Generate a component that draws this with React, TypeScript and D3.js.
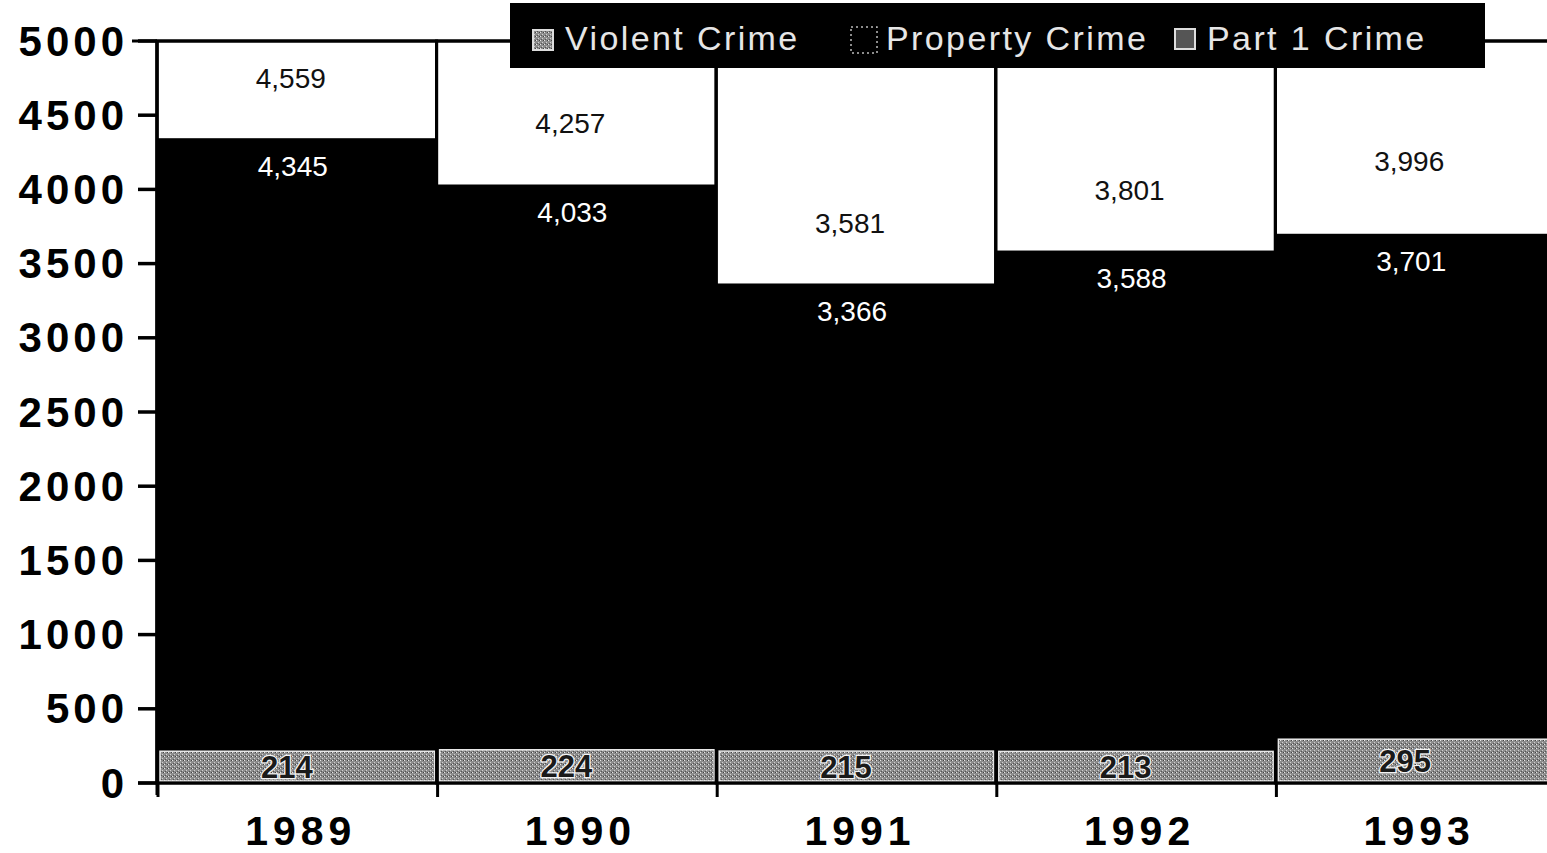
import React from "react";
import * as d3 from "d3";

const years = ["1989", "1990", "1991", "1992", "1993"];
const part1Crime = [4559, 4257, 3581, 3801, 3996];
const propertyCrime = [4345, 4033, 3366, 3588, 3701];
const violentCrime = [214, 224, 215, 213, 295];
const yTicks = [0, 500, 1000, 1500, 2000, 2500, 3000, 3500, 4000, 4500, 5000];
const legendItems = ["Violent Crime", "Property Crime", "Part 1 Crime"];

const W = 1547;
const H = 853;
const FONT = "'Liberation Sans', Arial, Helvetica, sans-serif";

export default function App() {
  const x = d3.scaleBand<string>().domain(years).range([157, 1555]).padding(0);
  const y = d3.scaleLinear().domain([0, 5000]).range([783, 41]);
  const bw = x.bandwidth();
  const fmt = d3.format(",");

  const legendTextX = [565, 886, 1207];

  return (
    <div style={{ position: "fixed", left: 0, top: 0 }}>
      <svg width={W} height={H} style={{ display: "block", background: "#fff" }}>
        <defs>
          <pattern id="greyDither" width="4" height="4" patternUnits="userSpaceOnUse">
            <rect width="4" height="4" fill="#8c8c8c" />
            <rect x="0" y="0" width="1" height="1" fill="#e6e6e6" />
            <rect x="2" y="2" width="1" height="1" fill="#d0d0d0" />
            <rect x="3" y="0" width="1" height="1" fill="#444" />
            <rect x="1" y="3" width="1" height="1" fill="#555" />
          </pattern>
        </defs>

        {/* full-height white bars (outlines) */}
        {years.map((yr) => (
          <rect
            key={"w" + yr}
            x={x(yr)!}
            y={y(5000)}
            width={bw}
            height={y(0) - y(5000)}
            fill="#fff"
            stroke="#000"
            strokeWidth={3}
          />
        ))}

        {/* property crime black bars */}
        {years.map((yr, i) => (
          <rect
            key={"p" + yr}
            x={x(yr)!}
            y={y(propertyCrime[i])}
            width={bw}
            height={y(0) - y(propertyCrime[i])}
            fill="#000"
          />
        ))}

        {/* violent crime grey bars */}
        {years.map((yr, i) => (
          <rect
            key={"v" + yr}
            x={x(yr)! + 3}
            y={y(violentCrime[i])}
            width={bw - 5}
            height={y(0) - y(violentCrime[i]) - 2}
            fill="url(#greyDither)"
            stroke="#e8e8e8"
            strokeWidth={1.5}
          />
        ))}

        {/* separators between bars */}
        {years.map((yr) => (
          <line
            key={"s" + yr}
            x1={x(yr)!}
            x2={x(yr)!}
            y1={y(5000)}
            y2={y(0)}
            stroke="#000"
            strokeWidth={3}
          />
        ))}

        {/* Part 1 labels */}
        {years.map((yr, i) => (
          <text
            key={"l1" + yr}
            x={x(yr)! + bw / 2 - 6}
            y={y(part1Crime[i]) - 28}
            textAnchor="middle"
            dominantBaseline="central"
            fontFamily={FONT}
            fontSize={28}
            fill="#111"
          >
            {fmt(part1Crime[i])}
          </text>
        ))}

        {/* Property labels */}
        {years.map((yr, i) => (
          <text
            key={"l2" + yr}
            x={x(yr)! + bw / 2 - 4}
            y={y(propertyCrime[i]) + 28}
            textAnchor="middle"
            dominantBaseline="central"
            fontFamily={FONT}
            fontSize={28}
            fill="#fff"
          >
            {fmt(propertyCrime[i])}
          </text>
        ))}

        {/* Violent labels */}
        {years.map((yr, i) => (
          <text
            key={"l3" + yr}
            x={x(yr)! + bw / 2 - 10}
            y={(y(violentCrime[i]) + y(0)) / 2}
            textAnchor="middle"
            dominantBaseline="central"
            fontFamily={FONT}
            fontSize={31}
            fontWeight="bold"
            fill="#1a1a1a"
            stroke="#f2f2f2"
            strokeWidth={2.5}
            paintOrder="stroke"
          >
            {fmt(violentCrime[i])}
          </text>
        ))}

        {/* top frame line */}
        <line x1={132} x2={W} y1={y(5000)} y2={y(5000)} stroke="#000" strokeWidth={3} />

        {/* y axis */}
        <line x1={157} x2={157} y1={y(5000)} y2={y(0) + 12} stroke="#000" strokeWidth={3} />
        {yTicks.map((t) => (
          <g key={"yt" + t}>
            <line x1={138} x2={157} y1={y(t)} y2={y(t)} stroke="#000" strokeWidth={3.5} />
            <text
              x={128}
              y={y(t)}
              textAnchor="end"
              dominantBaseline="central"
              fontFamily={FONT}
              fontSize={42}
              fontWeight="bold"
              letterSpacing={4}
              fill="#000"
            >
              {t}
            </text>
          </g>
        ))}

        {/* x axis */}
        <line x1={138} x2={W} y1={y(0)} y2={y(0)} stroke="#000" strokeWidth={3} />
        {years.map((yr) => (
          <line
            key={"xt" + yr}
            x1={x(yr)! + 1}
            x2={x(yr)! + 1}
            y1={y(0)}
            y2={y(0) + 14}
            stroke="#000"
            strokeWidth={3}
          />
        ))}
        {years.map((yr) => (
          <text
            key={"xl" + yr}
            x={x(yr)! + bw / 2 + 4}
            y={831}
            textAnchor="middle"
            dominantBaseline="central"
            fontFamily={FONT}
            fontSize={41}
            fontWeight="bold"
            letterSpacing={5}
            fill="#000"
          >
            {yr}
          </text>
        ))}

        {/* legend */}
        <rect x={510} y={3} width={975} height={65} fill="#000" />
        <rect x={533} y={30} width={20} height={20} fill="url(#greyDither)" stroke="#ddd" strokeWidth={2} />
        <rect x={851} y={27} width={26} height={26} fill="none" stroke="#bbb" strokeWidth={1.5} strokeDasharray="2 3" />
        <rect x={1175} y={29} width={20} height={20} fill="#555" stroke="#ddd" strokeWidth={2} />
        {legendItems.map((t, i) => (
          <text
            key={"lg" + t}
            x={legendTextX[i]}
            y={38}
            dominantBaseline="central"
            fontFamily={FONT}
            fontSize={34}
            letterSpacing={2.4}
            fill="#e6e6e6"
          >
            {t}
          </text>
        ))}
      </svg>
    </div>
  );
}
